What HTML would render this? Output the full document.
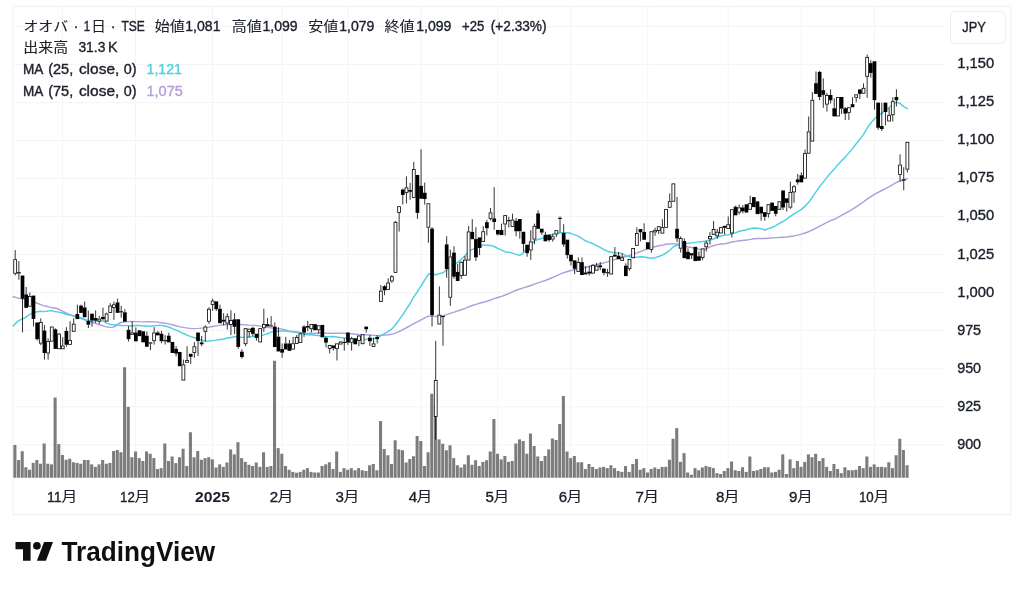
<!DOCTYPE html>
<html lang="ja"><head><meta charset="utf-8"><title>オオバ · 1日 · TSE — TradingView</title>
<style>
html,body{margin:0;padding:0;background:#fff;}
body{width:1024px;height:590px;overflow:hidden;position:relative;font-family:"Liberation Sans","Noto Sans CJK JP",sans-serif;}
svg{position:absolute;left:0;top:0;display:block;}
text{font-family:"Liberation Sans","Noto Sans CJK JP",sans-serif;fill:#1c202b;stroke:#1c202b;stroke-width:0.38px;}
.ax{font-size:15.1px;}
.lg{font-size:14.4px;}
.b{font-weight:bold;stroke-width:0;}
.cj{font-size:13.9px;stroke-width:0.1px;}
</style></head><body>
<svg width="1024" height="590" viewBox="0 0 1024 590">
<rect x="0" y="0" width="1024" height="590" fill="#fff"/>
<rect x="12.9" y="6.4" width="998" height="508.1" fill="none" stroke="#f4f4f4" stroke-width="1.6"/>
<g stroke="#f4f4f4" stroke-width="1" shape-rendering="auto">
<line x1="13.5" x2="945.5" y1="26.59" y2="26.59"/>
<line x1="13.5" x2="945.5" y1="64.6" y2="64.6"/>
<line x1="13.5" x2="945.5" y1="102.61" y2="102.61"/>
<line x1="13.5" x2="945.5" y1="140.62" y2="140.62"/>
<line x1="13.5" x2="945.5" y1="178.63" y2="178.63"/>
<line x1="13.5" x2="945.5" y1="216.64" y2="216.64"/>
<line x1="13.5" x2="945.5" y1="254.65" y2="254.65"/>
<line x1="13.5" x2="945.5" y1="292.66" y2="292.66"/>
<line x1="13.5" x2="945.5" y1="330.67" y2="330.67"/>
<line x1="13.5" x2="945.5" y1="368.68" y2="368.68"/>
<line x1="13.5" x2="945.5" y1="406.69" y2="406.69"/>
<line x1="13.5" x2="945.5" y1="444.7" y2="444.7"/>
<line x1="62.48" x2="62.48" y1="7" y2="478"/>
<line x1="135.63" x2="135.63" y1="7" y2="478"/>
<line x1="212.45" x2="212.45" y1="7" y2="478"/>
<line x1="281.94" x2="281.94" y1="7" y2="478"/>
<line x1="347.78" x2="347.78" y1="7" y2="478"/>
<line x1="420.93" x2="420.93" y1="7" y2="478"/>
<line x1="497.75" x2="497.75" y1="7" y2="478"/>
<line x1="570.9" x2="570.9" y1="7" y2="478"/>
<line x1="647.71" x2="647.71" y1="7" y2="478"/>
<line x1="728.18" x2="728.18" y1="7" y2="478"/>
<line x1="801.34" x2="801.34" y1="7" y2="478"/>
<line x1="874.49" x2="874.49" y1="7" y2="478"/>
</g>
<g fill="#7c7c7c">
<rect x="13.38" y="445" width="3.05" height="32.75"/>
<rect x="17.03" y="460" width="3.05" height="17.75"/>
<rect x="20.69" y="451.25" width="3.05" height="26.5"/>
<rect x="24.34" y="467.25" width="3.05" height="10.5"/>
<rect x="28" y="469.75" width="3.05" height="8"/>
<rect x="31.66" y="462.88" width="3.05" height="14.88"/>
<rect x="35.31" y="460" width="3.05" height="17.75"/>
<rect x="38.97" y="463.75" width="3.05" height="14"/>
<rect x="42.63" y="443.5" width="3.05" height="34.25"/>
<rect x="46.28" y="463.75" width="3.05" height="14"/>
<rect x="49.94" y="464.38" width="3.05" height="13.38"/>
<rect x="53.6" y="397.5" width="3.05" height="80.25"/>
<rect x="57.25" y="444.12" width="3.05" height="33.62"/>
<rect x="60.91" y="455" width="3.05" height="22.75"/>
<rect x="64.57" y="459.75" width="3.05" height="18"/>
<rect x="68.22" y="458.75" width="3.05" height="19"/>
<rect x="71.88" y="462.25" width="3.05" height="15.5"/>
<rect x="75.54" y="462.88" width="3.05" height="14.88"/>
<rect x="79.19" y="463.75" width="3.05" height="14"/>
<rect x="82.85" y="460" width="3.05" height="17.75"/>
<rect x="86.5" y="460" width="3.05" height="17.75"/>
<rect x="90.16" y="464.38" width="3.05" height="13.38"/>
<rect x="93.82" y="466.88" width="3.05" height="10.88"/>
<rect x="97.47" y="464.38" width="3.05" height="13.38"/>
<rect x="101.13" y="460" width="3.05" height="17.75"/>
<rect x="104.79" y="463.75" width="3.05" height="14"/>
<rect x="108.44" y="462.88" width="3.05" height="14.88"/>
<rect x="112.1" y="451" width="3.05" height="26.75"/>
<rect x="115.76" y="450" width="3.05" height="27.75"/>
<rect x="119.41" y="452.25" width="3.05" height="25.5"/>
<rect x="123.07" y="367.25" width="3.05" height="110.5"/>
<rect x="126.73" y="406.9" width="3.05" height="70.85"/>
<rect x="130.38" y="457.25" width="3.05" height="20.5"/>
<rect x="134.04" y="451.5" width="3.05" height="26.25"/>
<rect x="137.7" y="458.12" width="3.05" height="19.62"/>
<rect x="141.35" y="461" width="3.05" height="16.75"/>
<rect x="145.01" y="451.5" width="3.05" height="26.25"/>
<rect x="148.67" y="453.75" width="3.05" height="24"/>
<rect x="152.32" y="458.12" width="3.05" height="19.62"/>
<rect x="155.98" y="469" width="3.05" height="8.75"/>
<rect x="159.63" y="468.12" width="3.05" height="9.62"/>
<rect x="163.29" y="443.5" width="3.05" height="34.25"/>
<rect x="166.95" y="461" width="3.05" height="16.75"/>
<rect x="170.6" y="456.5" width="3.05" height="21.25"/>
<rect x="174.26" y="463.12" width="3.05" height="14.62"/>
<rect x="177.92" y="457.25" width="3.05" height="20.5"/>
<rect x="181.57" y="448.75" width="3.05" height="29"/>
<rect x="185.23" y="466" width="3.05" height="11.75"/>
<rect x="188.89" y="432.25" width="3.05" height="45.5"/>
<rect x="192.54" y="457.25" width="3.05" height="20.5"/>
<rect x="196.2" y="451" width="3.05" height="26.75"/>
<rect x="199.86" y="459.75" width="3.05" height="18"/>
<rect x="203.51" y="458.12" width="3.05" height="19.62"/>
<rect x="207.17" y="457.25" width="3.05" height="20.5"/>
<rect x="210.83" y="459.38" width="3.05" height="18.38"/>
<rect x="214.48" y="467.5" width="3.05" height="10.25"/>
<rect x="218.14" y="464.38" width="3.05" height="13.38"/>
<rect x="221.8" y="466.88" width="3.05" height="10.88"/>
<rect x="225.45" y="462.5" width="3.05" height="15.25"/>
<rect x="229.11" y="449.38" width="3.05" height="28.38"/>
<rect x="232.76" y="454.38" width="3.05" height="23.38"/>
<rect x="236.42" y="442.25" width="3.05" height="35.5"/>
<rect x="240.08" y="458.12" width="3.05" height="19.62"/>
<rect x="243.73" y="461.88" width="3.05" height="15.88"/>
<rect x="247.39" y="464.75" width="3.05" height="13"/>
<rect x="251.05" y="466" width="3.05" height="11.75"/>
<rect x="254.7" y="462.5" width="3.05" height="15.25"/>
<rect x="258.36" y="466.88" width="3.05" height="10.88"/>
<rect x="262.02" y="452.25" width="3.05" height="25.5"/>
<rect x="265.67" y="466.88" width="3.05" height="10.88"/>
<rect x="269.33" y="466" width="3.05" height="11.75"/>
<rect x="272.99" y="360.75" width="3.05" height="117"/>
<rect x="276.64" y="448.12" width="3.05" height="29.62"/>
<rect x="280.3" y="453.75" width="3.05" height="24"/>
<rect x="283.96" y="466" width="3.05" height="11.75"/>
<rect x="287.61" y="469.75" width="3.05" height="8"/>
<rect x="291.27" y="471.88" width="3.05" height="5.88"/>
<rect x="294.93" y="472.75" width="3.05" height="5"/>
<rect x="298.58" y="471.88" width="3.05" height="5.88"/>
<rect x="302.24" y="469.75" width="3.05" height="8"/>
<rect x="305.89" y="468.12" width="3.05" height="9.62"/>
<rect x="309.55" y="471.88" width="3.05" height="5.88"/>
<rect x="313.21" y="472.5" width="3.05" height="5.25"/>
<rect x="316.86" y="472.5" width="3.05" height="5.25"/>
<rect x="320.52" y="466" width="3.05" height="11.75"/>
<rect x="324.18" y="464.38" width="3.05" height="13.38"/>
<rect x="327.83" y="462.25" width="3.05" height="15.5"/>
<rect x="331.49" y="469" width="3.05" height="8.75"/>
<rect x="335.15" y="451.5" width="3.05" height="26.25"/>
<rect x="338.8" y="471.88" width="3.05" height="5.88"/>
<rect x="342.46" y="468.12" width="3.05" height="9.62"/>
<rect x="346.12" y="469.75" width="3.05" height="8"/>
<rect x="349.77" y="468.12" width="3.05" height="9.62"/>
<rect x="353.43" y="470.25" width="3.05" height="7.5"/>
<rect x="357.09" y="468.12" width="3.05" height="9.62"/>
<rect x="360.74" y="470.25" width="3.05" height="7.5"/>
<rect x="364.4" y="471" width="3.05" height="6.75"/>
<rect x="368.06" y="465.25" width="3.05" height="12.5"/>
<rect x="371.71" y="464" width="3.05" height="13.75"/>
<rect x="375.37" y="470.25" width="3.05" height="7.5"/>
<rect x="379.02" y="421" width="3.05" height="56.75"/>
<rect x="382.68" y="449" width="3.05" height="28.75"/>
<rect x="386.34" y="455.25" width="3.05" height="22.5"/>
<rect x="389.99" y="464" width="3.05" height="13.75"/>
<rect x="393.65" y="440.25" width="3.05" height="37.5"/>
<rect x="397.31" y="449.38" width="3.05" height="28.38"/>
<rect x="400.96" y="450.25" width="3.05" height="27.5"/>
<rect x="404.62" y="462.5" width="3.05" height="15.25"/>
<rect x="408.28" y="459" width="3.05" height="18.75"/>
<rect x="411.93" y="456.25" width="3.05" height="21.5"/>
<rect x="415.59" y="436" width="3.05" height="41.75"/>
<rect x="419.25" y="441" width="3.05" height="36.75"/>
<rect x="422.9" y="466" width="3.05" height="11.75"/>
<rect x="426.56" y="452.25" width="3.05" height="25.5"/>
<rect x="430.22" y="393.8" width="3.05" height="83.95"/>
<rect x="433.87" y="405" width="3.05" height="72.75"/>
<rect x="437.53" y="439.38" width="3.05" height="38.38"/>
<rect x="441.19" y="443.75" width="3.05" height="34"/>
<rect x="444.84" y="450.25" width="3.05" height="27.5"/>
<rect x="448.5" y="445.25" width="3.05" height="32.5"/>
<rect x="452.15" y="458.12" width="3.05" height="19.62"/>
<rect x="455.81" y="465.25" width="3.05" height="12.5"/>
<rect x="459.47" y="467.5" width="3.05" height="10.25"/>
<rect x="463.12" y="464.38" width="3.05" height="13.38"/>
<rect x="466.78" y="455.25" width="3.05" height="22.5"/>
<rect x="470.44" y="464.75" width="3.05" height="13"/>
<rect x="474.09" y="460.25" width="3.05" height="17.5"/>
<rect x="477.75" y="466" width="3.05" height="11.75"/>
<rect x="481.41" y="461.88" width="3.05" height="15.88"/>
<rect x="485.06" y="460.25" width="3.05" height="17.5"/>
<rect x="488.72" y="451.5" width="3.05" height="26.25"/>
<rect x="492.38" y="419" width="3.05" height="58.75"/>
<rect x="496.03" y="453.75" width="3.05" height="24"/>
<rect x="499.69" y="459.38" width="3.05" height="18.38"/>
<rect x="503.35" y="456" width="3.05" height="21.75"/>
<rect x="507" y="461.88" width="3.05" height="15.88"/>
<rect x="510.66" y="461" width="3.05" height="16.75"/>
<rect x="514.32" y="443.5" width="3.05" height="34.25"/>
<rect x="517.97" y="439.38" width="3.05" height="38.38"/>
<rect x="521.63" y="441" width="3.05" height="36.75"/>
<rect x="525.28" y="453.75" width="3.05" height="24"/>
<rect x="528.94" y="433.5" width="3.05" height="44.25"/>
<rect x="532.6" y="446" width="3.05" height="31.75"/>
<rect x="536.25" y="456.5" width="3.05" height="21.25"/>
<rect x="539.91" y="461" width="3.05" height="16.75"/>
<rect x="543.57" y="456" width="3.05" height="21.75"/>
<rect x="547.22" y="449.38" width="3.05" height="28.38"/>
<rect x="550.88" y="438.5" width="3.05" height="39.25"/>
<rect x="554.54" y="440" width="3.05" height="37.75"/>
<rect x="558.19" y="424" width="3.05" height="53.75"/>
<rect x="561.85" y="396" width="3.05" height="81.75"/>
<rect x="565.51" y="451.5" width="3.05" height="26.25"/>
<rect x="569.16" y="458.12" width="3.05" height="19.62"/>
<rect x="572.82" y="456" width="3.05" height="21.75"/>
<rect x="576.48" y="462.25" width="3.05" height="15.5"/>
<rect x="580.13" y="462.25" width="3.05" height="15.5"/>
<rect x="583.79" y="469" width="3.05" height="8.75"/>
<rect x="587.45" y="464" width="3.05" height="13.75"/>
<rect x="591.1" y="466.88" width="3.05" height="10.88"/>
<rect x="594.76" y="469" width="3.05" height="8.75"/>
<rect x="598.41" y="467.5" width="3.05" height="10.25"/>
<rect x="602.07" y="466.88" width="3.05" height="10.88"/>
<rect x="605.73" y="468.12" width="3.05" height="9.62"/>
<rect x="609.38" y="465.25" width="3.05" height="12.5"/>
<rect x="613.04" y="468.12" width="3.05" height="9.62"/>
<rect x="616.7" y="471" width="3.05" height="6.75"/>
<rect x="620.35" y="471.88" width="3.05" height="5.88"/>
<rect x="624.01" y="466" width="3.05" height="11.75"/>
<rect x="627.67" y="471.88" width="3.05" height="5.88"/>
<rect x="631.32" y="464" width="3.05" height="13.75"/>
<rect x="634.98" y="459" width="3.05" height="18.75"/>
<rect x="638.64" y="469.75" width="3.05" height="8"/>
<rect x="642.29" y="468.12" width="3.05" height="9.62"/>
<rect x="645.95" y="472.5" width="3.05" height="5.25"/>
<rect x="649.61" y="469" width="3.05" height="8.75"/>
<rect x="653.26" y="467.5" width="3.05" height="10.25"/>
<rect x="656.92" y="469" width="3.05" height="8.75"/>
<rect x="660.58" y="466.88" width="3.05" height="10.88"/>
<rect x="664.23" y="466.88" width="3.05" height="10.88"/>
<rect x="667.89" y="459.75" width="3.05" height="18"/>
<rect x="671.54" y="438.75" width="3.05" height="39"/>
<rect x="675.2" y="428.12" width="3.05" height="49.62"/>
<rect x="678.86" y="461.88" width="3.05" height="15.88"/>
<rect x="682.51" y="453.12" width="3.05" height="24.62"/>
<rect x="686.17" y="472.5" width="3.05" height="5.25"/>
<rect x="689.83" y="474.75" width="3.05" height="3"/>
<rect x="693.48" y="468.12" width="3.05" height="9.62"/>
<rect x="697.14" y="470.25" width="3.05" height="7.5"/>
<rect x="700.8" y="467.5" width="3.05" height="10.25"/>
<rect x="704.45" y="466" width="3.05" height="11.75"/>
<rect x="708.11" y="466.88" width="3.05" height="10.88"/>
<rect x="711.77" y="468.12" width="3.05" height="9.62"/>
<rect x="715.42" y="473.12" width="3.05" height="4.62"/>
<rect x="719.08" y="474" width="3.05" height="3.75"/>
<rect x="722.74" y="471" width="3.05" height="6.75"/>
<rect x="726.39" y="468.12" width="3.05" height="9.62"/>
<rect x="730.05" y="461.5" width="3.05" height="16.25"/>
<rect x="733.71" y="470.25" width="3.05" height="7.5"/>
<rect x="737.36" y="471" width="3.05" height="6.75"/>
<rect x="741.02" y="467.25" width="3.05" height="10.5"/>
<rect x="744.67" y="471.88" width="3.05" height="5.88"/>
<rect x="748.33" y="456.5" width="3.05" height="21.25"/>
<rect x="751.99" y="471" width="3.05" height="6.75"/>
<rect x="755.64" y="470.25" width="3.05" height="7.5"/>
<rect x="759.3" y="469" width="3.05" height="8.75"/>
<rect x="762.96" y="467.25" width="3.05" height="10.5"/>
<rect x="766.61" y="467.25" width="3.05" height="10.5"/>
<rect x="770.27" y="472.5" width="3.05" height="5.25"/>
<rect x="773.93" y="471.88" width="3.05" height="5.88"/>
<rect x="777.58" y="469.75" width="3.05" height="8"/>
<rect x="781.24" y="454.38" width="3.05" height="23.38"/>
<rect x="784.9" y="474" width="3.05" height="3.75"/>
<rect x="788.55" y="459.38" width="3.05" height="18.38"/>
<rect x="792.21" y="468.12" width="3.05" height="9.62"/>
<rect x="795.87" y="461" width="3.05" height="16.75"/>
<rect x="799.52" y="466.88" width="3.05" height="10.88"/>
<rect x="803.18" y="461.88" width="3.05" height="15.88"/>
<rect x="806.84" y="454.38" width="3.05" height="23.38"/>
<rect x="810.49" y="457.25" width="3.05" height="20.5"/>
<rect x="814.15" y="453.75" width="3.05" height="24"/>
<rect x="817.8" y="461" width="3.05" height="16.75"/>
<rect x="821.46" y="458.12" width="3.05" height="19.62"/>
<rect x="825.12" y="466.88" width="3.05" height="10.88"/>
<rect x="828.77" y="471" width="3.05" height="6.75"/>
<rect x="832.43" y="464" width="3.05" height="13.75"/>
<rect x="836.09" y="469" width="3.05" height="8.75"/>
<rect x="839.74" y="473.12" width="3.05" height="4.62"/>
<rect x="843.4" y="467.25" width="3.05" height="10.5"/>
<rect x="847.06" y="470.25" width="3.05" height="7.5"/>
<rect x="850.71" y="470.25" width="3.05" height="7.5"/>
<rect x="854.37" y="469.75" width="3.05" height="8"/>
<rect x="858.03" y="466" width="3.05" height="11.75"/>
<rect x="861.68" y="468.12" width="3.05" height="9.62"/>
<rect x="865.34" y="456.5" width="3.05" height="21.25"/>
<rect x="869" y="466.88" width="3.05" height="10.88"/>
<rect x="872.65" y="464.38" width="3.05" height="13.38"/>
<rect x="876.31" y="466.88" width="3.05" height="10.88"/>
<rect x="879.97" y="466.88" width="3.05" height="10.88"/>
<rect x="883.62" y="467.25" width="3.05" height="10.5"/>
<rect x="887.28" y="462.25" width="3.05" height="15.5"/>
<rect x="890.93" y="468.12" width="3.05" height="9.62"/>
<rect x="894.59" y="455.25" width="3.05" height="22.5"/>
<rect x="898.25" y="438.75" width="3.05" height="39"/>
<rect x="901.9" y="450" width="3.05" height="27.75"/>
<rect x="905.56" y="465.25" width="3.05" height="12.5"/>
</g>
<path d="M13.25 296.8 L18.25 298.1 L21.4 298.7 L30.75 299.9 L35.75 302.75 L40.1 304.3 L43.25 305.6 L46.4 306.2 L49.5 307.1 L52.6 307.75 L55.75 308.25 L58.9 309.3 L62 310.9 L65.1 312.4 L68.25 314 L71.4 315.25 L74.4 316.3 L80.5 318.4 L86.75 320.6 L93 322.5 L96.1 323.6 L99.25 324.7 L102.4 325.6 L105.5 326.6 L108.6 327.2 L111.75 327.4 L114.25 326.9 L116.1 325.6 L118 324.1 L119.9 322.8 L122.4 322.2 L125.5 321.9 L130.25 321.4 L136.5 321.6 L142.75 321.9 L149 321.75 L155.25 321.9 L161.5 322.7 L167.75 323.6 L174 325.2 L180.25 326.9 L186.25 327.9 L191.25 328.6 L198.75 328.4 L205 327.9 L211.25 326.7 L217.5 325.6 L223.75 324.8 L230 324.2 L240.4 324.5 L248.5 325.1 L254.75 325.4 L261 326.1 L267.25 327.3 L273.5 328.25 L279.75 328.6 L285.78 329.9 L289.44 331.11 L293.09 332.05 L296.75 332.57 L300.41 332.92 L304.06 333.4 L307.72 333.51 L311.38 333.31 L315.03 333.41 L318.69 333.05 L322.35 332.99 L326 333.2 L329.66 333.16 L333.32 333.34 L336.97 333.32 L340.63 333.28 L344.28 333.31 L347.94 333.56 L351.6 333.82 L355.25 334.24 L358.91 334.49 L362.57 334.62 L366.22 334.74 L369.88 335.02 L373.54 335.35 L377.19 335.61 L380.85 335.31 L384.51 335.1 L388.16 334.81 L391.82 334.33 L395.48 333.13 L399.13 331.6 L402.79 329.67 L406.45 327.74 L410.1 325.74 L413.76 323.52 L417.41 321.79 L421.07 319.82 L424.73 317.89 L428.38 316.17 L432.04 315.9 L435.7 316.43 L439.35 316.08 L443.01 315.74 L446.67 314.62 L450.32 313.33 L453.98 312.14 L457.64 311.02 L461.29 309.71 L464.95 308.42 L468.61 306.89 L472.26 305.53 L475.92 304.37 L479.58 303.32 L483.23 302.29 L486.89 301.32 L490.54 300.03 L494.2 298.68 L497.86 297.52 L501.51 296.43 L505.17 295.03 L508.83 293.62 L512.48 291.93 L516.14 290.25 L519.8 288.95 L523.45 287.82 L527.11 286.74 L530.77 285.46 L534.42 284.09 L538.08 282.82 L541.74 281.57 L545.39 280.44 L549.05 279.01 L552.71 277.48 L556.36 275.85 L560.02 274.11 L563.68 272.69 L567.33 271.51 L570.99 270.49 L574.64 269.63 L578.3 268.69 L581.96 268 L585.61 267.33 L589.27 266.58 L592.93 265.77 L596.58 264.82 L600.24 263.81 L603.9 262.85 L607.55 261.84 L611.21 260.68 L614.87 259.54 L618.52 258.43 L622.18 257.3 L625.84 256.46 L629.49 255.33 L633.15 254.17 L636.81 252.82 L640.46 251.52 L644.12 250.17 L647.77 248.91 L651.43 247.48 L655.09 246.67 L658.74 245.82 L662.4 245.08 L666.06 244.18 L669.71 243.91 L673.37 243.6 L677.03 244.18 L680.68 244.86 L684.34 245.75 L688 246.95 L691.65 247.52 L695.31 248.35 L698.97 249.17 L702.62 249.77 L706.28 248.81 L709.94 246.89 L713.59 245.75 L717.25 244.62 L720.9 244.07 L724.56 243.68 L728.22 242.99 L731.87 242.04 L735.53 241.41 L739.19 240.72 L742.84 240.44 L746.5 240.09 L750.16 239.37 L753.81 238.82 L757.47 238.59 L761.13 238.39 L764.78 238.45 L768.44 238.21 L772.1 237.9 L775.75 237.62 L779.41 237.43 L783.07 237.26 L786.72 237.03 L790.38 236.51 L794.03 235.91 L797.69 235.09 L801.35 234.15 L805 232.97 L808.66 231.71 L812.32 230 L815.97 228.15 L819.63 226.23 L823.29 224.29 L826.94 222.41 L830.6 220.67 L834.26 219.3 L837.91 217.34 L841.57 215.39 L845.23 213.42 L848.88 211.27 L852.54 209.2 L856.2 206.8 L859.85 204.39 L863.51 201.92 L867.16 199.15 L870.82 196.57 L874.48 194.35 L878.13 192.41 L881.79 190.49 L885.45 188.56 L889.1 186.68 L892.76 184.58 L896.42 182.48 L900.07 181 L903.73 179.94 L907.39 178.52" fill="none" stroke="#b39ddb" stroke-width="1.45" stroke-linejoin="round" stroke-linecap="round"/>
<path d="M13.25 325.9 L15.75 323.1 L18.25 320.9 L21.4 319.3 L24.5 318.1 L27.6 315.9 L30.75 314 L33.9 312.75 L37 311.7 L40.1 311.2 L43.25 311.6 L46.4 311.3 L50.75 310.6 L54.5 311.5 L58.9 312.1 L62 312.75 L65.1 314 L68.25 314.7 L71.3 315.4 L74.4 316.3 L80.5 317.8 L85.5 319.7 L89.9 320.75 L96.1 320.9 L101.1 321.1 L102.96 320.97 L106.61 323.14 L110.27 324.46 L113.93 324.71 L117.58 324.91 L121.24 325.53 L124.89 325.64 L128.55 325.64 L132.21 326.05 L135.86 325.58 L139.52 325.37 L143.18 325.98 L146.83 325.89 L150.49 326.26 L154.15 325.73 L157.8 325.36 L161.46 325.39 L165.12 326.06 L168.77 326.99 L172.43 328.59 L176.09 330.05 L179.74 331.7 L183.4 333.48 L187.06 335.08 L190.71 336.59 L194.37 337.69 L198.02 338.78 L201.68 340.31 L205.34 341.2 L208.99 341.05 L212.65 340.61 L216.31 340.11 L219.96 339.48 L223.62 339.03 L227.28 338.04 L230.93 337.42 L234.59 336.8 L238.25 336.8 L241.9 337.36 L245.56 337.19 L249.22 336.94 L252.87 336.65 L256.53 336.53 L260.19 335.98 L263.84 334.84 L267.5 333.76 L271.15 332.15 L274.81 331.44 L278.47 331.08 L282.12 330.91 L285.78 331.02 L289.44 331.41 L293.09 331.39 L296.75 331.81 L300.41 332.79 L304.06 334.05 L307.72 334.77 L311.38 334.82 L315.03 335.16 L318.69 335.52 L322.35 336.2 L326 336.83 L329.66 336.77 L333.32 336.42 L336.97 337.03 L340.63 337.54 L344.28 337.9 L347.94 338.08 L351.6 338.49 L355.25 339.28 L358.91 339.66 L362.57 340.01 L366.22 339.3 L369.88 338.89 L373.54 338.54 L377.19 338.13 L380.85 335.74 L384.51 333.6 L388.16 331.42 L391.82 329.14 L395.48 324.72 L399.13 319.91 L402.79 314.73 L406.45 309.03 L410.1 303.64 L413.76 296.93 L417.41 291.74 L421.07 285.88 L424.73 279.91 L428.38 274.3 L432.04 273.23 L435.7 274.74 L439.35 273.64 L443.01 272.76 L446.67 269.74 L450.32 266.58 L453.98 264.26 L457.64 262.33 L461.29 259.17 L464.95 255.82 L468.61 251.53 L472.26 249.45 L475.92 248.13 L479.58 246.73 L483.23 244.93 L486.89 245.17 L490.54 245.42 L494.2 246.5 L497.86 248.37 L501.51 250.13 L505.17 251.97 L508.83 252.29 L512.48 253.14 L516.14 254.43 L519.8 255.53 L523.45 252.68 L527.11 247.58 L530.77 244.65 L534.42 241.03 L538.08 239.43 L541.74 238.46 L545.39 237.04 L549.05 235.4 L552.71 234.38 L556.36 233.2 L560.02 232.67 L563.68 232.89 L567.33 232.79 L570.99 233.33 L574.64 234.81 L578.3 236.19 L581.96 238.67 L585.61 240.77 L589.27 242.33 L592.93 243.54 L596.58 245.56 L600.24 247.42 L603.9 249.53 L607.55 251.2 L611.21 252.21 L614.87 252.72 L618.52 252.97 L622.18 253.61 L625.84 255.6 L629.49 256.82 L633.15 257.46 L636.81 257.15 L640.46 256.84 L644.12 256.96 L647.77 257.7 L651.43 258.23 L655.09 257.66 L658.74 256.53 L662.4 255.18 L666.06 252.8 L669.71 250.36 L673.37 246.72 L677.03 245.28 L680.68 243.88 L684.34 243.6 L688 243.32 L691.65 242.85 L695.31 242.38 L698.97 241.89 L702.62 241.58 L706.28 241.03 L709.94 240.12 L713.59 238.99 L717.25 237.24 L720.9 235.97 L724.56 235.13 L728.22 234.78 L731.87 233.88 L735.53 232.9 L739.19 231.24 L742.84 230.43 L746.5 229.72 L750.16 228.79 L753.81 227.97 L757.47 228.16 L761.13 228.63 L764.78 229.95 L768.44 228.59 L772.1 227.49 L775.75 225.71 L779.41 223.42 L783.07 221.5 L786.72 219.17 L790.38 216.44 L794.03 213.95 L797.69 211.53 L801.35 209.36 L805 206.32 L808.66 202.31 L812.32 197.21 L815.97 191.86 L819.63 186.75 L823.29 182.15 L826.94 177.36 L830.6 173.05 L834.26 169.26 L837.91 164.65 L841.57 160.86 L845.23 157.12 L848.88 152.86 L852.54 148.61 L856.2 143.73 L859.85 139.3 L863.51 134.4 L867.16 128.14 L870.82 122.98 L874.48 118.69 L878.13 115.68 L881.79 113.15 L885.45 110.16 L889.1 107.48 L892.76 104.26 L896.42 102.12 L900.07 103.45 L903.73 106.65 L907.39 108.58" fill="none" stroke="#4dd0e1" stroke-width="1.45" stroke-linejoin="round" stroke-linecap="round"/>
<path d="M15.2 250.06V259.28M15.2 273.66V275.43M18.86 261V272.19M18.86 273.5V279.69M22.51 298.73V332.41M26.17 286.98V294.38M29.83 292.45V296.05M33.48 318.94V326.49M37.14 339.15V340.77M40.8 318.28V322.18M40.8 343.55V345.18M44.45 325.12V330.54M44.45 352.97V359.61M48.11 338.34V341.18M48.11 353.43V359.61M55.42 328.31V329.33M59.08 332.87V333.73M62.73 337.12V345.58M66.39 327.09V331M66.39 344.77V346.7M70.05 321.32V339.96M73.7 318.28V323.7M77.36 304.61V313.98M81.02 304.61V305.62M84.67 301.57V307.44M88.33 310.68V320.97M88.33 324.71V328.01M91.99 320.46V326.64M95.64 310.38V318.08M95.64 320.61V322.84M99.3 315.85V318.69M99.3 321.52V323.9M102.96 307.64V316.87M102.96 319.09V320.26M106.61 312.66V313.52M110.27 303.24V305.62M113.93 301.57V304.41M113.93 307.84V319.8M117.58 298.68V302.43M121.24 305.82V311.24M121.24 312.4V317.67M124.89 309.16V312.31M128.55 325.88V329.78M128.55 339.15V341.53M132.21 321.32V332.52M135.86 327.4V332.52M146.83 331.5V335.71M150.49 343.55V350.19M154.15 327.09V332.52M154.15 341.12V344.57M157.8 330.89V332.52M161.46 330.89V333.73M161.46 341.12V343.35M165.12 335.15V340.11M165.12 341.27V344.57M168.77 332.72V335.71M176.09 345.94V348.78M176.09 353.58V356.42M183.4 359.61V364.43M187.06 346.24V360.17M190.71 356.77V364.02M194.37 342.14V346.34M194.37 352.97V357.79M198.02 341.12V355.97M201.68 335.91V342.39M201.68 344.31V346.24M205.34 325.27V326.59M205.34 331.7V341.53M208.99 307.19V308.81M208.99 321.67V323.9M212.65 298.68V300.61M212.65 304.81V310.84M216.31 309.21V310.84M219.96 304.61V308.81M223.62 313.27V319.75M223.62 321.67V325.27M227.28 313.27V316.26M227.28 323.5V329.53M230.93 310.23V320.06M230.93 324.86V335.15M234.59 313.12V319.3M234.59 326.84V334.08M238.25 346.9V348.67M241.9 349.28V351.66M241.9 357.08V358.7M245.56 344.16V346.24M249.22 332.01V337.43M252.87 326.79V327.81M252.87 333.83V336.21M256.53 337.93V340.62M263.84 308.71V324.16M263.84 328.21V331.81M267.5 318.13V324.16M271.15 316.15V325.38M271.15 326.38V326.79M274.81 322.38V326.59M278.47 327.25V336.62M282.12 343.51V349.08M282.12 352.67V357.79M285.78 336.82V343.46M289.44 340.01V343.46M293.09 336.82V343.31M296.75 335V337.08M300.41 332.41V333.43M304.06 325.12V326.59M304.06 332.61V336.82M307.72 320.86V325.98M307.72 327.6V331.2M311.38 329.12V332.41M318.69 330.18V333.63M326 336.82V337.83M326 342.64V347.46M329.66 348.87V353.38M333.32 348.26V350.65M336.97 348.87V360.52M340.63 341.07V341.63M344.28 338.03V341.94M344.28 342.95V350.65M347.94 342.64V344.87M351.6 336.82V338.44M351.6 342.64V350.65M358.91 340.82V346.09M366.22 329.27V332.72M369.88 335.15V337.68M369.88 341.27V345.78M373.54 337.73V343.46M377.19 335.15V336.92M377.19 339.15V343.35M380.85 285.16V290.73M384.51 285.16V286.17M384.51 290.37V295.19M388.16 278.32V282.53M391.82 275.13V276.3M391.82 281.41V282.73M395.48 220.88V221.9M399.13 212.88V231.52M402.79 188.52V189.53M402.79 194.95V204.62M406.45 176.36V187.4M406.45 193.12V203.41M410.1 182.89V189.99M410.1 191.76V199.76M413.76 161.92V169.17M417.41 212.88V218.91M421.07 149.31V185.88M424.73 182.59V192.72M424.73 199.05V204.62M428.38 227.62V242.76M432.04 227.11V228.58M432.04 315.14V326.49M435.7 340.77V380.08M435.7 416.95V439.69M439.35 286.37V314.74M443.01 317.11V345.78M446.67 236.23V244.39M446.67 268.95V277.71M450.32 249.6V256.54M450.32 297.66V305.82M453.98 246.26V252.59M453.98 276.7V278.77M457.64 263.88V271.89M461.29 261.3V261.86M461.29 275.94V278.77M464.95 255.98V259.73M468.61 225.9V231.47M472.26 219.21V231.93M475.92 227.26V239.07M475.92 257.4V261M479.58 247.98V255.07M483.23 226.05V231.32M486.89 219.82V222.2M486.89 228.22V235.47M490.54 207.97V212.48M490.54 218.8V220.43M494.2 187.15V218.4M494.2 221.99V229.85M497.86 234.45V235.47M501.51 223.62V229.95M505.17 224.42V235.47M508.83 216.78V220.07M508.83 221.23V227.42M512.48 213.59V219.62M516.14 217.99V220.83M516.14 231.26V236.23M519.8 231.26V238.66M523.45 243.87V251.73M527.11 253.14V256.74M530.77 230.15V241.5M530.77 250.41V259.93M534.42 223.62V225.85M534.42 239.47V244.28M538.08 210.4V213.39M541.74 232.63V234.86M545.39 231.67V234.66M549.05 240.08V241.7M552.71 233.65V236.33M552.71 239.47V241.7M556.36 234.45V236.99M560.02 216.47V217.79M560.02 218.95V232.43M563.68 224.22V232.84M563.68 244.48V246.86M567.33 255.12V258.57M570.99 261.35V265.55M574.64 268.79V274.22M578.3 257.35V262.16M581.96 257.35V262.16M585.61 266.16V272.5M589.27 265.55V271.58M589.27 273.5V275.43M592.93 264.04V264.9M592.93 273.5V273.61M596.58 262.97V265.66M600.24 262.06V265.35M600.24 267.27V270.27M603.9 272.9V275.28M607.55 268.9V272.19M607.55 273.35V276.8M614.87 247.02V254.72M618.52 252.03V255.63M622.18 253.4V257.45M625.84 263.28V265.66M629.49 269.1V270.87M636.81 227.42V233.14M640.46 232.33V241.39M644.12 223.31V231.93M651.43 249.8V252.64M655.09 227.72V229.95M655.09 232.33V235.77M658.74 230.96V233.95M662.4 219.21V227.22M669.71 193.38V201.23M677.03 197.03V228.73M677.03 238.56V242.15M680.68 236.38V238.16M680.68 248.58V252.64M684.34 238.36V241.04M688 248.38V251.83M691.65 255.42V259.02M698.97 251.42V256.24M702.62 257.85V260.24M706.28 240.79V242.56M706.28 247.22V251.42M709.94 232.13V236.18M709.94 239.16V244.59M713.59 220.88V229.19M717.25 228.93V231.77M717.25 236.28V238.81M724.56 227.77V234.56M728.22 216.47V224.33M731.87 233.39V237.6M735.53 205.69V206.7M739.19 204.47V207.46M739.19 212.57V214.5M742.84 205.08V207.46M742.84 211.36V213.28M750.16 195.66V203.06M761.13 213.48V220.73M764.78 216.83V220.73M768.44 214.09V217.54M775.75 213.79V216.32M783.07 207.56V210.09M786.72 202.85V211.61M790.38 181.68V191.96M790.38 207.56V208.88M794.03 185.17V186.34M794.03 192.36V202.8M797.69 173.93V179.35M797.69 182.33V184.57M801.35 172.41V175.25M805 149.62V153.22M808.66 116.49V131.49M812.32 92.18V99.88M815.97 71.51V83.17M819.63 70.91V71.92M819.63 96.94V100.23M823.29 78.35V90.16M823.29 94.81V107.83M826.94 93.09V95.02M826.94 104.54V111.63M830.6 89.29V95.02M830.6 100.28V103.42M834.26 98.41V108.24M841.57 108.64V114.06M845.23 107.07V108.24M845.23 113.65V119.99M848.88 112.74V119.99M852.54 97.19V104.14M856.2 97.7V102.21M859.85 93.9V99.02M863.51 83.37V87.88M867.16 54.65V56.88M867.16 76.73V97.8M870.82 60.27V63.11M870.82 72.93V77.74M874.48 100.13V109.65M878.13 127.78V129.86M881.79 102.82V126.02M881.79 129V130.93M885.45 111.98V125.3M889.1 107.83V115.08M892.76 97.19V101.25M892.76 115.17V121.51M896.42 89.29V96.99M896.42 100.28V106.46M900.07 154.33V164.61M900.07 174.89V181.53M903.73 167.24V179.35M903.73 180.66V190.34M907.39 169.57V172.41" fill="none" stroke="#000" stroke-width="0.8"/>
<g fill="#fff" stroke="#000" stroke-width="0.8">
<rect x="13.75" y="259.68" width="2.9" height="13.58"/>
<rect x="28.38" y="296.45" width="2.9" height="9.78"/>
<rect x="39.35" y="322.58" width="2.9" height="20.57"/>
<rect x="46.66" y="341.58" width="2.9" height="11.45"/>
<rect x="50.31" y="326.99" width="2.9" height="14.19"/>
<rect x="57.63" y="334.13" width="2.9" height="14.64"/>
<rect x="61.28" y="345.98" width="2.9" height="2.79"/>
<rect x="68.6" y="340.36" width="2.9" height="4.01"/>
<rect x="72.25" y="324.1" width="2.9" height="7.2"/>
<rect x="97.85" y="319.09" width="2.9" height="2.03"/>
<rect x="105.16" y="313.92" width="2.9" height="7.2"/>
<rect x="108.82" y="306.02" width="2.9" height="6.44"/>
<rect x="112.48" y="304.81" width="2.9" height="2.64"/>
<rect x="130.76" y="332.92" width="2.9" height="1.42"/>
<rect x="152.7" y="332.92" width="2.9" height="7.81"/>
<rect x="181.95" y="364.83" width="2.9" height="15.25"/>
<rect x="185.61" y="360.57" width="2.9" height="1.73"/>
<rect x="192.92" y="346.74" width="2.9" height="5.83"/>
<rect x="203.89" y="326.99" width="2.9" height="4.31"/>
<rect x="207.54" y="309.21" width="2.9" height="12.06"/>
<rect x="211.2" y="301.01" width="2.9" height="3.4"/>
<rect x="225.83" y="316.66" width="2.9" height="6.44"/>
<rect x="229.48" y="320.46" width="2.9" height="4.01"/>
<rect x="244.11" y="328.66" width="2.9" height="15.1"/>
<rect x="247.77" y="329.12" width="2.9" height="2.49"/>
<rect x="258.74" y="328.66" width="2.9" height="13.28"/>
<rect x="262.39" y="324.56" width="2.9" height="3.25"/>
<rect x="291.64" y="343.71" width="2.9" height="5.37"/>
<rect x="295.3" y="337.48" width="2.9" height="5.98"/>
<rect x="298.96" y="333.83" width="2.9" height="8.72"/>
<rect x="309.93" y="324.56" width="2.9" height="4.16"/>
<rect x="317.24" y="325.78" width="2.9" height="4.01"/>
<rect x="328.21" y="345.38" width="2.9" height="3.09"/>
<rect x="335.52" y="343.86" width="2.9" height="4.61"/>
<rect x="339.18" y="342.03" width="2.9" height="2.03"/>
<rect x="350.15" y="338.84" width="2.9" height="3.4"/>
<rect x="357.46" y="335.96" width="2.9" height="4.46"/>
<rect x="361.12" y="334.74" width="2.9" height="9.02"/>
<rect x="372.09" y="343.86" width="2.9" height="2.64"/>
<rect x="379.4" y="291.13" width="2.9" height="10.24"/>
<rect x="386.71" y="282.93" width="2.9" height="6.44"/>
<rect x="390.37" y="276.7" width="2.9" height="4.31"/>
<rect x="394.03" y="222.3" width="2.9" height="50.05"/>
<rect x="397.68" y="206.65" width="2.9" height="5.83"/>
<rect x="405" y="187.8" width="2.9" height="4.92"/>
<rect x="412.31" y="169.57" width="2.9" height="27.86"/>
<rect x="426.93" y="203.76" width="2.9" height="23.46"/>
<rect x="434.25" y="380.48" width="2.9" height="36.07"/>
<rect x="437.9" y="315.14" width="2.9" height="8.87"/>
<rect x="448.87" y="256.94" width="2.9" height="40.32"/>
<rect x="459.84" y="262.26" width="2.9" height="13.28"/>
<rect x="463.5" y="260.13" width="2.9" height="15.1"/>
<rect x="467.16" y="231.87" width="2.9" height="28.17"/>
<rect x="481.78" y="231.72" width="2.9" height="9.78"/>
<rect x="489.09" y="212.88" width="2.9" height="5.53"/>
<rect x="503.72" y="215.61" width="2.9" height="8.41"/>
<rect x="511.03" y="220.02" width="2.9" height="6.44"/>
<rect x="529.32" y="241.9" width="2.9" height="8.11"/>
<rect x="532.97" y="226.25" width="2.9" height="12.82"/>
<rect x="551.26" y="236.73" width="2.9" height="2.34"/>
<rect x="554.91" y="230.65" width="2.9" height="3.4"/>
<rect x="576.85" y="262.56" width="2.9" height="9.02"/>
<rect x="591.48" y="265.3" width="2.9" height="7.81"/>
<rect x="595.13" y="266.06" width="2.9" height="4.16"/>
<rect x="609.76" y="256.64" width="2.9" height="17.38"/>
<rect x="620.73" y="257.85" width="2.9" height="2.49"/>
<rect x="628.04" y="259.37" width="2.9" height="9.32"/>
<rect x="631.7" y="248.58" width="2.9" height="9.17"/>
<rect x="635.36" y="233.54" width="2.9" height="11.76"/>
<rect x="649.98" y="231.72" width="2.9" height="17.68"/>
<rect x="653.64" y="230.35" width="2.9" height="1.58"/>
<rect x="657.29" y="226.7" width="2.9" height="3.85"/>
<rect x="660.95" y="227.62" width="2.9" height="5.53"/>
<rect x="664.61" y="209.38" width="2.9" height="17.99"/>
<rect x="668.26" y="201.63" width="2.9" height="5.68"/>
<rect x="671.92" y="183.85" width="2.9" height="17.38"/>
<rect x="679.23" y="238.56" width="2.9" height="9.63"/>
<rect x="701.17" y="248.89" width="2.9" height="8.57"/>
<rect x="704.83" y="242.96" width="2.9" height="3.85"/>
<rect x="708.49" y="236.58" width="2.9" height="2.18"/>
<rect x="712.14" y="229.59" width="2.9" height="4.77"/>
<rect x="715.8" y="232.17" width="2.9" height="3.7"/>
<rect x="719.45" y="227.62" width="2.9" height="5.37"/>
<rect x="726.77" y="224.73" width="2.9" height="3.85"/>
<rect x="730.42" y="209.69" width="2.9" height="23.3"/>
<rect x="737.74" y="207.86" width="2.9" height="4.31"/>
<rect x="748.71" y="203.46" width="2.9" height="5.83"/>
<rect x="766.99" y="204.67" width="2.9" height="9.02"/>
<rect x="777.96" y="201.78" width="2.9" height="7.5"/>
<rect x="788.93" y="192.36" width="2.9" height="14.79"/>
<rect x="792.58" y="186.74" width="2.9" height="5.22"/>
<rect x="803.55" y="153.62" width="2.9" height="24.52"/>
<rect x="807.21" y="131.89" width="2.9" height="21.33"/>
<rect x="810.87" y="100.28" width="2.9" height="40.78"/>
<rect x="825.49" y="95.42" width="2.9" height="8.72"/>
<rect x="836.46" y="97.39" width="2.9" height="18.59"/>
<rect x="847.43" y="107.73" width="2.9" height="4.61"/>
<rect x="854.75" y="94.81" width="2.9" height="2.49"/>
<rect x="862.06" y="88.28" width="2.9" height="4.92"/>
<rect x="865.71" y="57.28" width="2.9" height="19.05"/>
<rect x="887.65" y="115.48" width="2.9" height="5.53"/>
<rect x="891.31" y="101.65" width="2.9" height="13.12"/>
<rect x="898.62" y="165.01" width="2.9" height="9.48"/>
<rect x="905.94" y="142.22" width="2.9" height="26.95"/>
</g>
<g fill="#000">
<rect x="17.01" y="272.19" width="3.7" height="1.31"/>
<rect x="20.66" y="275.54" width="3.7" height="23.19"/>
<rect x="24.32" y="294.38" width="3.7" height="13.47"/>
<rect x="31.63" y="295.59" width="3.7" height="23.34"/>
<rect x="35.29" y="322.49" width="3.7" height="16.66"/>
<rect x="42.6" y="330.54" width="3.7" height="22.43"/>
<rect x="53.57" y="329.33" width="3.7" height="19.55"/>
<rect x="64.54" y="331" width="3.7" height="13.77"/>
<rect x="75.51" y="313.98" width="3.7" height="5.11"/>
<rect x="79.17" y="305.62" width="3.7" height="7.24"/>
<rect x="82.82" y="307.44" width="3.7" height="9.82"/>
<rect x="86.48" y="320.97" width="3.7" height="3.74"/>
<rect x="90.14" y="313.67" width="3.7" height="6.78"/>
<rect x="93.79" y="318.08" width="3.7" height="2.53"/>
<rect x="101.11" y="316.87" width="3.7" height="2.22"/>
<rect x="115.73" y="302.43" width="3.7" height="10.43"/>
<rect x="119.39" y="311.24" width="3.7" height="1.16"/>
<rect x="123.05" y="312.31" width="3.7" height="9.37"/>
<rect x="126.7" y="329.78" width="3.7" height="9.37"/>
<rect x="134.01" y="332.52" width="3.7" height="8.76"/>
<rect x="137.67" y="330.24" width="3.7" height="5.87"/>
<rect x="141.33" y="331.3" width="3.7" height="11.04"/>
<rect x="144.98" y="335.71" width="3.7" height="11.04"/>
<rect x="148.64" y="342.39" width="3.7" height="1.16"/>
<rect x="155.95" y="332.52" width="3.7" height="2.83"/>
<rect x="159.61" y="333.73" width="3.7" height="7.39"/>
<rect x="163.27" y="340.11" width="3.7" height="1.16"/>
<rect x="166.92" y="335.71" width="3.7" height="6.63"/>
<rect x="170.58" y="341.94" width="3.7" height="11.04"/>
<rect x="174.24" y="348.78" width="3.7" height="4.81"/>
<rect x="177.89" y="351.97" width="3.7" height="14.23"/>
<rect x="188.86" y="353.79" width="3.7" height="2.98"/>
<rect x="196.17" y="332.52" width="3.7" height="8.61"/>
<rect x="199.83" y="342.39" width="3.7" height="1.92"/>
<rect x="214.46" y="301.37" width="3.7" height="7.85"/>
<rect x="218.11" y="308.81" width="3.7" height="14.38"/>
<rect x="221.77" y="319.75" width="3.7" height="1.92"/>
<rect x="232.74" y="319.3" width="3.7" height="7.54"/>
<rect x="236.4" y="319.3" width="3.7" height="27.6"/>
<rect x="240.05" y="351.66" width="3.7" height="5.41"/>
<rect x="251.02" y="327.81" width="3.7" height="6.02"/>
<rect x="254.68" y="333.73" width="3.7" height="4.2"/>
<rect x="265.65" y="324.16" width="3.7" height="2.22"/>
<rect x="269.3" y="325.38" width="3.7" height="1.01"/>
<rect x="272.96" y="326.59" width="3.7" height="20.46"/>
<rect x="276.62" y="336.62" width="3.7" height="14.84"/>
<rect x="280.27" y="349.08" width="3.7" height="3.59"/>
<rect x="283.93" y="343.46" width="3.7" height="6.02"/>
<rect x="287.59" y="343.46" width="3.7" height="7.39"/>
<rect x="302.21" y="326.59" width="3.7" height="6.02"/>
<rect x="305.87" y="325.98" width="3.7" height="1.62"/>
<rect x="313.18" y="324.16" width="3.7" height="6.02"/>
<rect x="320.5" y="324.92" width="3.7" height="12.4"/>
<rect x="324.15" y="337.83" width="3.7" height="4.81"/>
<rect x="331.47" y="345.43" width="3.7" height="2.83"/>
<rect x="342.43" y="341.94" width="3.7" height="1.01"/>
<rect x="346.09" y="332.52" width="3.7" height="10.12"/>
<rect x="353.4" y="338.29" width="3.7" height="6.02"/>
<rect x="364.37" y="326.59" width="3.7" height="2.68"/>
<rect x="368.03" y="337.68" width="3.7" height="3.59"/>
<rect x="375.34" y="336.92" width="3.7" height="2.22"/>
<rect x="382.66" y="286.17" width="3.7" height="4.2"/>
<rect x="400.94" y="189.53" width="3.7" height="5.41"/>
<rect x="408.25" y="189.99" width="3.7" height="1.77"/>
<rect x="415.56" y="174.94" width="3.7" height="37.93"/>
<rect x="419.22" y="185.88" width="3.7" height="12.86"/>
<rect x="422.88" y="192.72" width="3.7" height="6.33"/>
<rect x="430.19" y="228.58" width="3.7" height="86.56"/>
<rect x="441.16" y="315.95" width="3.7" height="1.16"/>
<rect x="444.82" y="244.39" width="3.7" height="24.56"/>
<rect x="452.13" y="252.59" width="3.7" height="24.1"/>
<rect x="455.79" y="271.89" width="3.7" height="9.06"/>
<rect x="470.41" y="231.93" width="3.7" height="7.24"/>
<rect x="474.07" y="239.07" width="3.7" height="18.33"/>
<rect x="477.73" y="237.4" width="3.7" height="10.58"/>
<rect x="485.04" y="222.2" width="3.7" height="6.02"/>
<rect x="492.35" y="218.4" width="3.7" height="3.59"/>
<rect x="496.01" y="229.95" width="3.7" height="4.5"/>
<rect x="499.66" y="229.95" width="3.7" height="5.11"/>
<rect x="506.98" y="220.07" width="3.7" height="1.16"/>
<rect x="514.29" y="220.83" width="3.7" height="10.43"/>
<rect x="517.95" y="219.01" width="3.7" height="12.25"/>
<rect x="521.6" y="231.77" width="3.7" height="12.1"/>
<rect x="525.26" y="244.69" width="3.7" height="8.45"/>
<rect x="536.23" y="213.39" width="3.7" height="15.44"/>
<rect x="539.89" y="228.73" width="3.7" height="3.89"/>
<rect x="543.54" y="234.66" width="3.7" height="6.63"/>
<rect x="547.2" y="234.66" width="3.7" height="5.41"/>
<rect x="558.17" y="217.79" width="3.7" height="1.16"/>
<rect x="561.83" y="232.84" width="3.7" height="11.64"/>
<rect x="565.48" y="239.68" width="3.7" height="15.44"/>
<rect x="569.14" y="254.72" width="3.7" height="6.63"/>
<rect x="572.79" y="260.34" width="3.7" height="8.45"/>
<rect x="580.11" y="262.16" width="3.7" height="12.86"/>
<rect x="583.76" y="272.5" width="3.7" height="1.92"/>
<rect x="587.42" y="271.58" width="3.7" height="1.92"/>
<rect x="598.39" y="265.35" width="3.7" height="1.92"/>
<rect x="602.05" y="268.55" width="3.7" height="4.35"/>
<rect x="605.7" y="272.19" width="3.7" height="1.16"/>
<rect x="613.02" y="254.72" width="3.7" height="1.92"/>
<rect x="616.67" y="255.63" width="3.7" height="3.59"/>
<rect x="623.99" y="265.66" width="3.7" height="10.43"/>
<rect x="638.61" y="229.04" width="3.7" height="3.29"/>
<rect x="642.27" y="231.93" width="3.7" height="7.85"/>
<rect x="645.92" y="242.26" width="3.7" height="6.93"/>
<rect x="675.18" y="228.73" width="3.7" height="9.82"/>
<rect x="682.49" y="241.04" width="3.7" height="17.11"/>
<rect x="686.15" y="251.83" width="3.7" height="7.39"/>
<rect x="689.8" y="253.2" width="3.7" height="2.22"/>
<rect x="693.46" y="246.82" width="3.7" height="14.23"/>
<rect x="697.12" y="256.24" width="3.7" height="4.5"/>
<rect x="722.71" y="225.85" width="3.7" height="1.92"/>
<rect x="733.68" y="206.7" width="3.7" height="8.61"/>
<rect x="740.99" y="207.46" width="3.7" height="3.89"/>
<rect x="744.65" y="204.27" width="3.7" height="8.3"/>
<rect x="751.96" y="197.13" width="3.7" height="9.97"/>
<rect x="755.62" y="201.38" width="3.7" height="12.71"/>
<rect x="759.28" y="206.7" width="3.7" height="6.78"/>
<rect x="762.93" y="212.17" width="3.7" height="4.65"/>
<rect x="770.25" y="202.6" width="3.7" height="8.3"/>
<rect x="773.9" y="205.94" width="3.7" height="7.85"/>
<rect x="781.22" y="190.44" width="3.7" height="17.11"/>
<rect x="784.87" y="198.34" width="3.7" height="4.5"/>
<rect x="795.84" y="179.35" width="3.7" height="2.98"/>
<rect x="799.5" y="175.25" width="3.7" height="7.09"/>
<rect x="814.12" y="83.17" width="3.7" height="10.73"/>
<rect x="817.78" y="71.92" width="3.7" height="25.02"/>
<rect x="821.44" y="90.16" width="3.7" height="4.65"/>
<rect x="828.75" y="95.02" width="3.7" height="5.26"/>
<rect x="832.41" y="108.24" width="3.7" height="8.15"/>
<rect x="839.72" y="96.99" width="3.7" height="11.64"/>
<rect x="843.38" y="108.24" width="3.7" height="5.41"/>
<rect x="850.69" y="104.14" width="3.7" height="3.14"/>
<rect x="858" y="89.4" width="3.7" height="4.5"/>
<rect x="868.97" y="63.11" width="3.7" height="9.82"/>
<rect x="872.63" y="61.29" width="3.7" height="38.84"/>
<rect x="876.28" y="102.62" width="3.7" height="25.17"/>
<rect x="879.94" y="126.02" width="3.7" height="2.98"/>
<rect x="883.6" y="102.62" width="3.7" height="9.37"/>
<rect x="894.57" y="96.99" width="3.7" height="3.29"/>
<rect x="901.88" y="179.35" width="3.7" height="1.31"/>
</g>
<text class="ax" x="957.2" y="67.85" textLength="36.9" lengthAdjust="spacingAndGlyphs">1,150</text>
<text class="ax" x="957.2" y="106" textLength="36.9" lengthAdjust="spacingAndGlyphs">1,125</text>
<text class="ax" x="957.2" y="144.14" textLength="36.9" lengthAdjust="spacingAndGlyphs">1,100</text>
<text class="ax" x="957.2" y="182.29" textLength="36.9" lengthAdjust="spacingAndGlyphs">1,075</text>
<text class="ax" x="957.2" y="220.44" textLength="36.9" lengthAdjust="spacingAndGlyphs">1,050</text>
<text class="ax" x="957.2" y="258.58" textLength="36.9" lengthAdjust="spacingAndGlyphs">1,025</text>
<text class="ax" x="957.2" y="296.73" textLength="36.9" lengthAdjust="spacingAndGlyphs">1,000</text>
<text class="ax" x="957.2" y="334.88" textLength="23.9" lengthAdjust="spacingAndGlyphs">975</text>
<text class="ax" x="957.2" y="373.03" textLength="23.9" lengthAdjust="spacingAndGlyphs">950</text>
<text class="ax" x="957.2" y="411.17" textLength="23.9" lengthAdjust="spacingAndGlyphs">925</text>
<text class="ax" x="957.2" y="449.32" textLength="23.9" lengthAdjust="spacingAndGlyphs">900</text>
<rect x="950.5" y="11.5" width="54.9" height="31.9" rx="4.5" ry="4.5" fill="#fff" stroke="#ededed" stroke-width="1"/>
<text class="ax" x="974.1" y="32.1" text-anchor="middle" textLength="23.6" lengthAdjust="spacingAndGlyphs">JPY</text>
<text class="ax"><tspan x="46.88" y="501.6" textLength="14.8" lengthAdjust="spacingAndGlyphs">11</tspan><tspan x="61.48" y="500.9" class="cj" textLength="15.8" lengthAdjust="spacingAndGlyphs" style="font-size:13.8px">月</tspan></text>
<text class="ax"><tspan x="120.03" y="501.6" textLength="14.8" lengthAdjust="spacingAndGlyphs">12</tspan><tspan x="134.63" y="500.9" class="cj" textLength="15.8" lengthAdjust="spacingAndGlyphs" style="font-size:13.8px">月</tspan></text>
<text class="ax b" x="212.4" y="501.6" text-anchor="middle" textLength="35" lengthAdjust="spacingAndGlyphs">2025</text>
<text class="ax"><tspan x="269.69" y="501.6">2</tspan><tspan x="277.59" y="500.9" class="cj" textLength="15.8" lengthAdjust="spacingAndGlyphs" style="font-size:13.8px">月</tspan></text>
<text class="ax"><tspan x="335.53" y="501.6">3</tspan><tspan x="343.43" y="500.9" class="cj" textLength="15.8" lengthAdjust="spacingAndGlyphs" style="font-size:13.8px">月</tspan></text>
<text class="ax"><tspan x="408.68" y="501.6">4</tspan><tspan x="416.58" y="500.9" class="cj" textLength="15.8" lengthAdjust="spacingAndGlyphs" style="font-size:13.8px">月</tspan></text>
<text class="ax"><tspan x="485.5" y="501.6">5</tspan><tspan x="493.4" y="500.9" class="cj" textLength="15.8" lengthAdjust="spacingAndGlyphs" style="font-size:13.8px">月</tspan></text>
<text class="ax"><tspan x="558.65" y="501.6">6</tspan><tspan x="566.55" y="500.9" class="cj" textLength="15.8" lengthAdjust="spacingAndGlyphs" style="font-size:13.8px">月</tspan></text>
<text class="ax"><tspan x="635.46" y="501.6">7</tspan><tspan x="643.36" y="500.9" class="cj" textLength="15.8" lengthAdjust="spacingAndGlyphs" style="font-size:13.8px">月</tspan></text>
<text class="ax"><tspan x="715.93" y="501.6">8</tspan><tspan x="723.83" y="500.9" class="cj" textLength="15.8" lengthAdjust="spacingAndGlyphs" style="font-size:13.8px">月</tspan></text>
<text class="ax"><tspan x="789.09" y="501.6">9</tspan><tspan x="796.99" y="500.9" class="cj" textLength="15.8" lengthAdjust="spacingAndGlyphs" style="font-size:13.8px">月</tspan></text>
<text class="ax"><tspan x="858.89" y="501.6" textLength="14.8" lengthAdjust="spacingAndGlyphs">10</tspan><tspan x="873.49" y="500.9" class="cj" textLength="15.8" lengthAdjust="spacingAndGlyphs" style="font-size:13.8px">月</tspan></text>
<text class="lg"><tspan x="23.4" y="30.6" class="cj" textLength="44.9" lengthAdjust="spacingAndGlyphs">オオバ</tspan> <tspan x="73.4" y="30.9">·</tspan> <tspan x="83.8" y="30.9" textLength="6.4" lengthAdjust="spacingAndGlyphs">1</tspan><tspan x="91.3" y="30.6" class="cj" textLength="14.6" lengthAdjust="spacingAndGlyphs">日</tspan> <tspan x="110.7" y="30.9">·</tspan> <tspan x="121.5" y="30.9" textLength="23.4" lengthAdjust="spacingAndGlyphs">TSE</tspan> <tspan x="154.7" y="30.6" class="cj" textLength="30" lengthAdjust="spacingAndGlyphs">始値</tspan><tspan x="185.3" y="30.9" textLength="35.2" lengthAdjust="spacingAndGlyphs">1,081</tspan> <tspan x="231.7" y="30.6" class="cj" textLength="30" lengthAdjust="spacingAndGlyphs">高値</tspan><tspan x="262.5" y="30.9" textLength="35.2" lengthAdjust="spacingAndGlyphs">1,099</tspan> <tspan x="308.3" y="30.6" class="cj" textLength="30" lengthAdjust="spacingAndGlyphs">安値</tspan><tspan x="339.2" y="30.9" textLength="35.2" lengthAdjust="spacingAndGlyphs">1,079</tspan> <tspan x="384.5" y="30.6" class="cj" textLength="30" lengthAdjust="spacingAndGlyphs">終値</tspan><tspan x="416.2" y="30.9" textLength="35.2" lengthAdjust="spacingAndGlyphs">1,099</tspan> <tspan x="462" y="30.9" textLength="22.2" lengthAdjust="spacingAndGlyphs">+25</tspan> <tspan x="490.8" y="30.9" textLength="55.7" lengthAdjust="spacingAndGlyphs">(+2.33%)</tspan></text>
<text class="lg"><tspan x="23.3" y="51.9" class="cj" textLength="44.8" lengthAdjust="spacingAndGlyphs">出来高</tspan> <tspan x="78.4" y="52.2" textLength="27" lengthAdjust="spacingAndGlyphs">31.3</tspan> <tspan x="108" y="52.2" textLength="9.6" lengthAdjust="spacingAndGlyphs">K</tspan></text>
<text class="lg"><tspan x="22.9" y="73.9" textLength="19.6" lengthAdjust="spacingAndGlyphs">MA</tspan> <tspan x="48.2" y="73.9" textLength="25" lengthAdjust="spacingAndGlyphs">(25,</tspan> <tspan x="78.9" y="73.9" textLength="40.4" lengthAdjust="spacingAndGlyphs">close,</tspan> <tspan x="123.7" y="73.9" textLength="12.8" lengthAdjust="spacingAndGlyphs">0)</tspan> <tspan x="146.5" y="73.9" textLength="35.5" lengthAdjust="spacingAndGlyphs" style="fill:#4dd0e1;stroke:#4dd0e1;">1,121</tspan></text>
<text class="lg"><tspan x="22.9" y="95.6" textLength="19.6" lengthAdjust="spacingAndGlyphs">MA</tspan> <tspan x="48.2" y="95.6" textLength="25" lengthAdjust="spacingAndGlyphs">(75,</tspan> <tspan x="78.9" y="95.6" textLength="40.4" lengthAdjust="spacingAndGlyphs">close,</tspan> <tspan x="123.7" y="95.6" textLength="12.8" lengthAdjust="spacingAndGlyphs">0)</tspan> <tspan x="146.5" y="95.6" textLength="36.3" lengthAdjust="spacingAndGlyphs" style="fill:#b39ddb;stroke:#b39ddb;">1,075</tspan></text>
<g fill="#0f0f0f">
<path d="M15.5 542H30.6V560.75H23V549.3H15.5Z"/>
<circle cx="36.9" cy="545.8" r="3.85"/>
<path d="M44.1 542H53L45.9 560.75H36.9Z"/>
</g>
<text x="61.6" y="560.75" textLength="153.4" lengthAdjust="spacingAndGlyphs" style="font-size:27.2px;font-weight:bold;fill:#0f0f0f;stroke:none">TradingView</text>
</svg>
</body></html>
